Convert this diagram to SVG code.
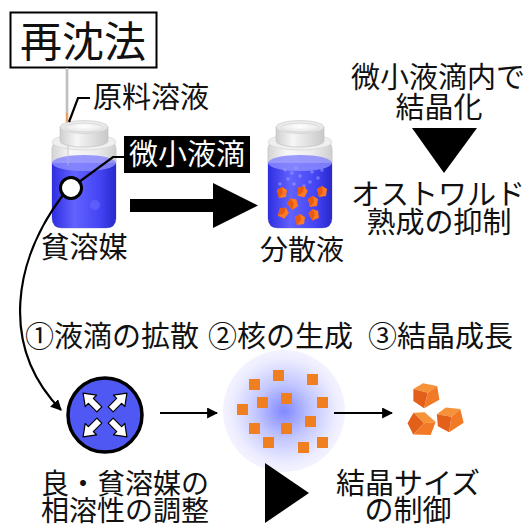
<svg xmlns="http://www.w3.org/2000/svg" width="528" height="524" viewBox="0 0 528 524">
  <style>
    .t { font-family: "Noto Sans CJK JP", "Noto Sans CJK SC", sans-serif; fill: #111; }
    .c { text-anchor: middle; }
    .line { fill: none; stroke: #000; stroke-width: 2.2; }
    .sq { fill: #f07f22; }
  </style>
  <defs>
    <linearGradient id="glass" x1="0" y1="0" x2="1" y2="0">
      <stop offset="0" stop-color="#d4d4d4"/>
      <stop offset="0.3" stop-color="#f8f8f8"/>
      <stop offset="0.7" stop-color="#ececec"/>
      <stop offset="1" stop-color="#cfcfcf"/>
    </linearGradient>
    <linearGradient id="capside" x1="0" y1="0" x2="1" y2="0">
      <stop offset="0" stop-color="#cfcfcf"/>
      <stop offset="0.35" stop-color="#f6f6f6"/>
      <stop offset="1" stop-color="#c8c8c8"/>
    </linearGradient>
    <radialGradient id="captop" cx="0.5" cy="0.45" r="0.6">
      <stop offset="0" stop-color="#ffffff"/>
      <stop offset="1" stop-color="#dedede"/>
    </radialGradient>
    <linearGradient id="liquid" x1="0" y1="0" x2="1" y2="0">
      <stop offset="0" stop-color="#2e2ee0"/>
      <stop offset="0.35" stop-color="#6262ff"/>
      <stop offset="0.75" stop-color="#4444f4"/>
      <stop offset="1" stop-color="#2828cc"/>
    </linearGradient>
    <radialGradient id="glow" cx="0.5" cy="0.5" r="0.5">
      <stop offset="0" stop-color="#8088ff"/>
      <stop offset="0.45" stop-color="#c2c6ff"/>
      <stop offset="0.85" stop-color="#ececff"/>
      <stop offset="1" stop-color="#f3f3ff"/>
    </radialGradient>
    <marker id="head" viewBox="0 0 10 10" refX="9" refY="5" markerWidth="5" markerHeight="5" orient="auto">
      <path d="M0,0 L10,5 L0,10 Z" fill="#000"/>
    </marker>
    <!-- glass jar with cap and blue liquid, centred on x=0 -->
    <g id="jar">
      <rect x="-32" y="140" width="64" height="88" rx="9" fill="url(#glass)" stroke="#c4c4c4" stroke-width="0.8"/>
      <ellipse cx="0" cy="142" rx="32" ry="8" fill="#efefef" stroke="#cfcfcf" stroke-width="0.6"/>
      <path d="M-32,163 L-32,218 Q-32,228 -22,228 L22,228 Q32,228 32,218 L32,163 Z" fill="url(#liquid)"/>
      <ellipse cx="0" cy="163" rx="32" ry="8" fill="#8a8aff" opacity="0.85"/>
      <path d="M-24,127 L-24,141 A24,6 0 0 0 24,141 L24,127 Z" fill="url(#capside)" stroke="#c0c0c0" stroke-width="0.6"/>
      <ellipse cx="0" cy="127" rx="24" ry="6.5" fill="url(#captop)" stroke="#cccccc" stroke-width="0.6"/>
      <ellipse cx="0" cy="127.5" rx="19" ry="4.5" fill="none" stroke="#d6d6d6" stroke-width="0.8"/>
    </g>
    <!-- small crystal chip -->
    <g id="chip">
      <path d="M-5,-3 L0,-6 L5,-3 L4,4 L-3,5 Z" fill="#ff7a22"/>
      <path d="M-5,-3 L0,-6 L1,0 L-3,5 Z" fill="#e85a12"/>
    </g>
    <!-- grown crystal -->
    <g id="crystal">
      <path d="M-12,-8 L-2,-13 L12,-9 L2,-3 Z" fill="#f69238"/>
      <path d="M-12,-8 L2,-3 L-3,12 L-13,4 Z" fill="#e2601a"/>
      <path d="M2,-3 L12,-9 L13,5 L-3,12 Z" fill="#f27a26"/>
    </g>
    <!-- outward arrow used inside the droplet -->
    <path id="spread" d="M0,-3.5 L12,-3.5 L12,-8 L23,0 L12,8 L12,3.5 L0,3.5 Z" fill="#fff" stroke="#000" stroke-width="1.2" stroke-linejoin="round"/>
  </defs>

  <rect width="528" height="524" fill="#fff"/>

  <!-- title -->
  <g id="title">
    <rect x="10.5" y="12.5" width="146" height="55" fill="#fff" stroke="#000" stroke-width="2"/>
    <text class="t c" x="83" y="57" font-size="42">再沈法</text>
  </g>

  <!-- needle feeding the stock solution -->
  <g id="needle">
    <line x1="67" y1="68" x2="67" y2="114" stroke="#a8a8a8" stroke-width="2.5"/>
    <line x1="67" y1="68" x2="67" y2="114" stroke="#e4e4e4" stroke-width="0.8"/>
    <line x1="67" y1="113" x2="67" y2="129" stroke="#e8a060" stroke-width="2.5"/>
  </g>

  <g id="poor-solvent-jar">
    <use href="#jar" x="84"/>
    <line x1="68" y1="145" x2="68" y2="166" stroke="#bbbbbb" stroke-width="1" opacity="0.7"/>
    <circle cx="95" cy="205" r="5" fill="#7070ff" opacity="0.5"/>
    <text class="t c" x="84" y="258" font-size="29">貧溶媒</text>
  </g>

  <g id="stock-label">
    <text class="t" x="93" y="108" font-size="29">原料溶液</text>
  </g>

  <g id="droplet-label">
    <rect x="124" y="136" width="126" height="37" fill="#000"/>
    <text class="t c" x="187" y="165" font-size="29" style="fill:#fff">微小液滴</text>
  </g>

  <g id="droplet-marker">
    <circle cx="71" cy="188" r="10.5" fill="#fff" stroke="#000" stroke-width="3"/>
  </g>

  <g id="dispersion-jar">
    <use href="#jar" x="300"/>
    <g fill="#a0a0ff" opacity="0.55">
      <circle cx="285" cy="170" r="1.8"/><circle cx="292" cy="173" r="1.8"/><circle cx="288" cy="179" r="1.8"/>
      <circle cx="296" cy="168" r="1.8"/><circle cx="300" cy="176" r="1.8"/><circle cx="294" cy="184" r="1.8"/>
      <circle cx="312" cy="172" r="1.8"/><circle cx="318" cy="178" r="1.8"/><circle cx="310" cy="182" r="1.8"/>
      <circle cx="322" cy="170" r="1.8"/><circle cx="280" cy="184" r="1.8"/><circle cx="304" cy="186" r="1.8"/>
    </g>
    <use href="#chip" x="282" y="193"/>
    <use href="#chip" x="302" y="192" transform="rotate(20 302 192)"/>
    <use href="#chip" x="322" y="192"/>
    <use href="#chip" x="293" y="204" transform="rotate(-25 293 204)"/>
    <use href="#chip" x="313" y="202"/>
    <use href="#chip" x="283" y="213" transform="rotate(30 283 213)"/>
    <use href="#chip" x="300" y="220"/>
    <use href="#chip" x="314" y="215" transform="rotate(-15 314 215)"/>
    <text class="t c" x="302" y="260" font-size="28">分散液</text>
  </g>

  <g id="ostwald-note">
    <text class="t c" x="438" y="88" font-size="29">微小液滴内で</text>
    <text class="t c" x="439" y="118" font-size="29">結晶化</text>
    <text class="t c" x="438" y="205" font-size="29">オストワルド</text>
    <text class="t c" x="439" y="233" font-size="29">熟成の抑制</text>
  </g>

  <g id="steps">
    <text class="t" y="347" font-size="29"><tspan x="25">①液滴の拡散</tspan><tspan x="208">②核の生成</tspan><tspan x="368">③結晶成長</tspan></text>
  </g>

  <g id="droplet-spread">
    <circle cx="105" cy="415" r="37" fill="#4f58f2" stroke="#000" stroke-width="3.5"/>
    <use href="#spread" transform="translate(105,415) rotate(-135) translate(8,0)"/>
    <use href="#spread" transform="translate(105,415) rotate(-45) translate(8,0)"/>
    <use href="#spread" transform="translate(105,415) rotate(45) translate(8,0)"/>
    <use href="#spread" transform="translate(105,415) rotate(135) translate(8,0)"/>
  </g>

  <g id="nucleation">
    <circle cx="284" cy="411" r="61" fill="url(#glow)"/>
    <rect class="sq" x="249" y="379" width="11" height="11"/>
    <rect class="sq" x="273" y="370" width="11" height="11"/>
    <rect class="sq" x="307" y="374" width="11" height="11"/>
    <rect class="sq" x="257" y="397" width="11" height="11"/>
    <rect class="sq" x="281" y="393" width="11" height="11"/>
    <rect class="sq" x="317" y="397" width="11" height="11"/>
    <rect class="sq" x="237" y="404" width="11" height="11"/>
    <rect class="sq" x="305" y="416" width="11" height="11"/>
    <rect class="sq" x="249" y="423" width="11" height="11"/>
    <rect class="sq" x="281" y="423" width="11" height="11"/>
    <rect class="sq" x="263" y="437" width="11" height="11"/>
    <rect class="sq" x="317" y="437" width="11" height="11"/>
    <rect class="sq" x="298" y="442" width="11" height="11"/>
  </g>

  <g id="grown-crystals">
    <use href="#crystal" transform="translate(426,396) rotate(-5)"/>
    <use href="#crystal" transform="translate(421,425) rotate(25)"/>
    <use href="#crystal" transform="translate(450,420) rotate(-10)"/>
  </g>

  <g id="solvent-note">
    <text class="t c" x="125" y="494" font-size="28">良・貧溶媒の</text>
    <text class="t c" x="125" y="521" font-size="28">相溶性の調整</text>
  </g>

  <g id="size-note">
    <text class="t c" x="408" y="494" font-size="29">結晶サイズ</text>
    <text class="t c" x="408" y="521" font-size="29">の制御</text>
  </g>

  <g id="connectors">
    <!-- leader to stock solution label -->
    <path class="line" d="M90,98 L78,98 L69,122" stroke-width="2"/>
    <!-- droplet marker to its label -->
    <path class="line" d="M79,182 L113,157 L124,157" stroke-width="2"/>
    <!-- droplet marker down to the spreading droplet -->
    <path class="line" d="M63,195 C15,258 -2,345 61,410" stroke-width="2" marker-end="url(#head)"/>
    <!-- mixing step -->
    <path d="M130,199 L213,199 L213,183 L258,205.5 L213,228 L213,212 L130,212 Z" fill="#000"/>
    <!-- process arrows -->
    <path class="line" d="M160,413 L217,413" stroke-width="3" marker-end="url(#head)"/>
    <path class="line" d="M334,413 L392,413" stroke-width="3" marker-end="url(#head)"/>
    <!-- consequence pointers -->
    <path d="M412,128 L477,128 L444,173 Z" fill="#000"/>
    <path d="M265,463 L309,493 L265,523 Z" fill="#000"/>
  </g>
</svg>
